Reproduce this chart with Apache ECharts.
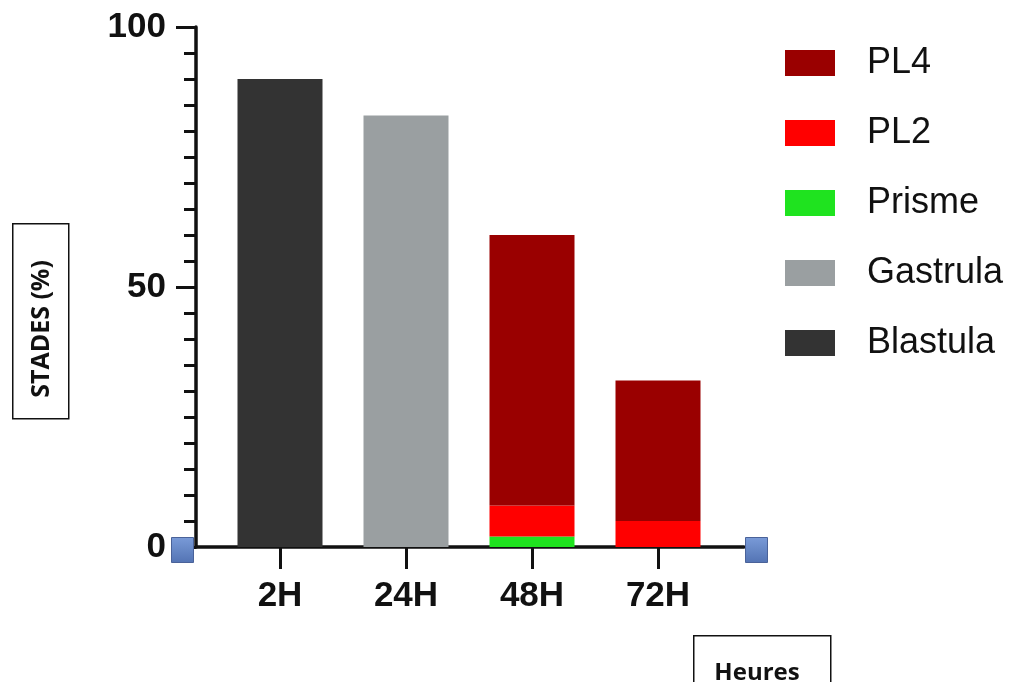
<!DOCTYPE html>
<html>
<head>
<meta charset="utf-8">
<script src="https://cdn.jsdelivr.net/npm/echarts@6/dist/echarts.min.js"></script>
<style>
  html, body { margin: 0; padding: 0; background: #fff; }
  #chart { width: 1021px; height: 682px; }
</style>
</head>
<body>
<div id="chart"></div>
<script>
// Developmental stages (%) per time point
const categories = ['2H', '24H', '48H', '72H'];
const blastula = [90, 0, 0, 0];
const gastrula = [0, 83, 0, 0];
const prisme   = [0, 0, 2, 0];
const pl2      = [0, 0, 6, 5];
const pl4      = [0, 0, 52, 27];
const yTicks   = [0, 50, 100];
const legendOrder = ['PL4', 'PL2', 'Prisme', 'Gastrula', 'Blastula'];

const INK = '#111';
const TICK_FONT = '"Liberation Sans", Arial, sans-serif';
const BOX_FONT = '"Open Sans", "Noto Sans", sans-serif';

const chart = echarts.init(document.getElementById('chart'), null, { renderer: 'canvas' });

function stageSeries(name, values, color) {
  return {
    name: name,
    type: 'bar',
    stack: 'stades',
    xAxisIndex: 1,
    yAxisIndex: 1,
    barWidth: 85,
    itemStyle: { color: color },
    emphasis: { disabled: true },
    data: values
  };
}

const handleFill = () => new echarts.graphic.LinearGradient(0, 0, 0, 1, [
  { offset: 0, color: '#7a9bd8' }, { offset: 1, color: '#5373b3' }
]);

chart.setOption({
  backgroundColor: '#fff',
  animation: false,
  grid: [
    // frame: full-length axis lines and the y scale
    { left: 196, right: 277, top: 27, bottom: 135 },
    // bars: categories sit inset from the axis ends
    { left: 217, right: 300, top: 27, bottom: 135 }
  ],
  legend: {
    orient: 'vertical',
    left: 785,
    top: 45,
    padding: 0,
    itemWidth: 50,
    itemHeight: 26,
    itemGap: 34,
    icon: 'rect',
    selectedMode: false,
    data: legendOrder,
    textStyle: {
      fontFamily: TICK_FONT,
      fontSize: 36,
      color: INK,
      padding: [0, 0, 0, 27]
    }
  },
  xAxis: [
    {
      gridIndex: 0,
      type: 'value',
      min: 0,
      max: 1,
      splitLine: { show: false },
      axisLine: { show: true, onZero: false, lineStyle: { color: INK, width: 3.5 } },
      axisTick: { show: false },
      axisLabel: { show: false }
    },
    {
      gridIndex: 1,
      type: 'category',
      data: categories,
      boundaryGap: true,
      axisLine: { show: false },
      axisTick: { show: true, alignWithLabel: true, length: 22, lineStyle: { color: INK, width: 3 } },
      axisLabel: {
        margin: 32,
        fontFamily: TICK_FONT,
        fontWeight: 'bold',
        fontSize: 35,
        color: INK
      }
    }
  ],
  yAxis: [
    {
      gridIndex: 0,
      type: 'value',
      min: yTicks[0],
      max: yTicks[yTicks.length - 1],
      interval: yTicks[1] - yTicks[0],
      splitLine: { show: false },
      axisLine: { show: true, onZero: false, lineStyle: { color: INK, width: 3.5 } },
      axisTick: { show: true, length: 20, lineStyle: { color: INK, width: 3 } },
      minorTick: { show: true, splitNumber: 10, length: 12, lineStyle: { color: INK, width: 3 } },
      axisLabel: {
        margin: 30,
        fontFamily: TICK_FONT,
        fontWeight: 'bold',
        fontSize: 35,
        color: INK
      }
    },
    {
      gridIndex: 1,
      type: 'value',
      min: yTicks[0],
      max: yTicks[yTicks.length - 1],
      show: false,
      splitLine: { show: false }
    }
  ],
  series: [
    stageSeries('Blastula', blastula, '#333333'),
    stageSeries('Gastrula', gastrula, '#9a9fa1'),
    stageSeries('Prisme', prisme, '#1fe31f'),
    stageSeries('PL2', pl2, '#ff0000'),
    stageSeries('PL4', pl4, '#9a0000')
  ],
  graphic: [
    // y-axis title box
    {
      type: 'rect', left: 12, top: 223, z: 10,
      shape: { width: 56, height: 195 },
      style: { fill: '#fff', stroke: INK, lineWidth: 1.5 }
    },
    {
      type: 'text', x: 42, y: 329, rotation: Math.PI / 2, z: 11,
      style: {
        text: 'STADES (%)', fill: INK,
        font: 'bold 25px ' + BOX_FONT,
        align: 'center', verticalAlign: 'middle'
      }
    },
    // x-axis title box
    {
      type: 'rect', left: 693, top: 635, z: 10,
      shape: { width: 137, height: 60 },
      style: { fill: '#fff', stroke: INK, lineWidth: 1.5 }
    },
    {
      type: 'text', x: 757, y: 673, z: 11,
      style: {
        text: 'Heures', fill: INK,
        font: 'bold 24px ' + BOX_FONT,
        align: 'center', verticalAlign: 'middle'
      }
    },
    // handles at both ends of the horizontal axis
    {
      type: 'rect', left: 171, top: 537, z: 12,
      shape: { width: 22, height: 25 },
      style: { fill: handleFill(), stroke: '#4a6299', lineWidth: 1 }
    },
    {
      type: 'rect', left: 745, top: 537, z: 12,
      shape: { width: 22, height: 25 },
      style: { fill: handleFill(), stroke: '#4a6299', lineWidth: 1 }
    }
  ]
});
</script>
</body>
</html>
